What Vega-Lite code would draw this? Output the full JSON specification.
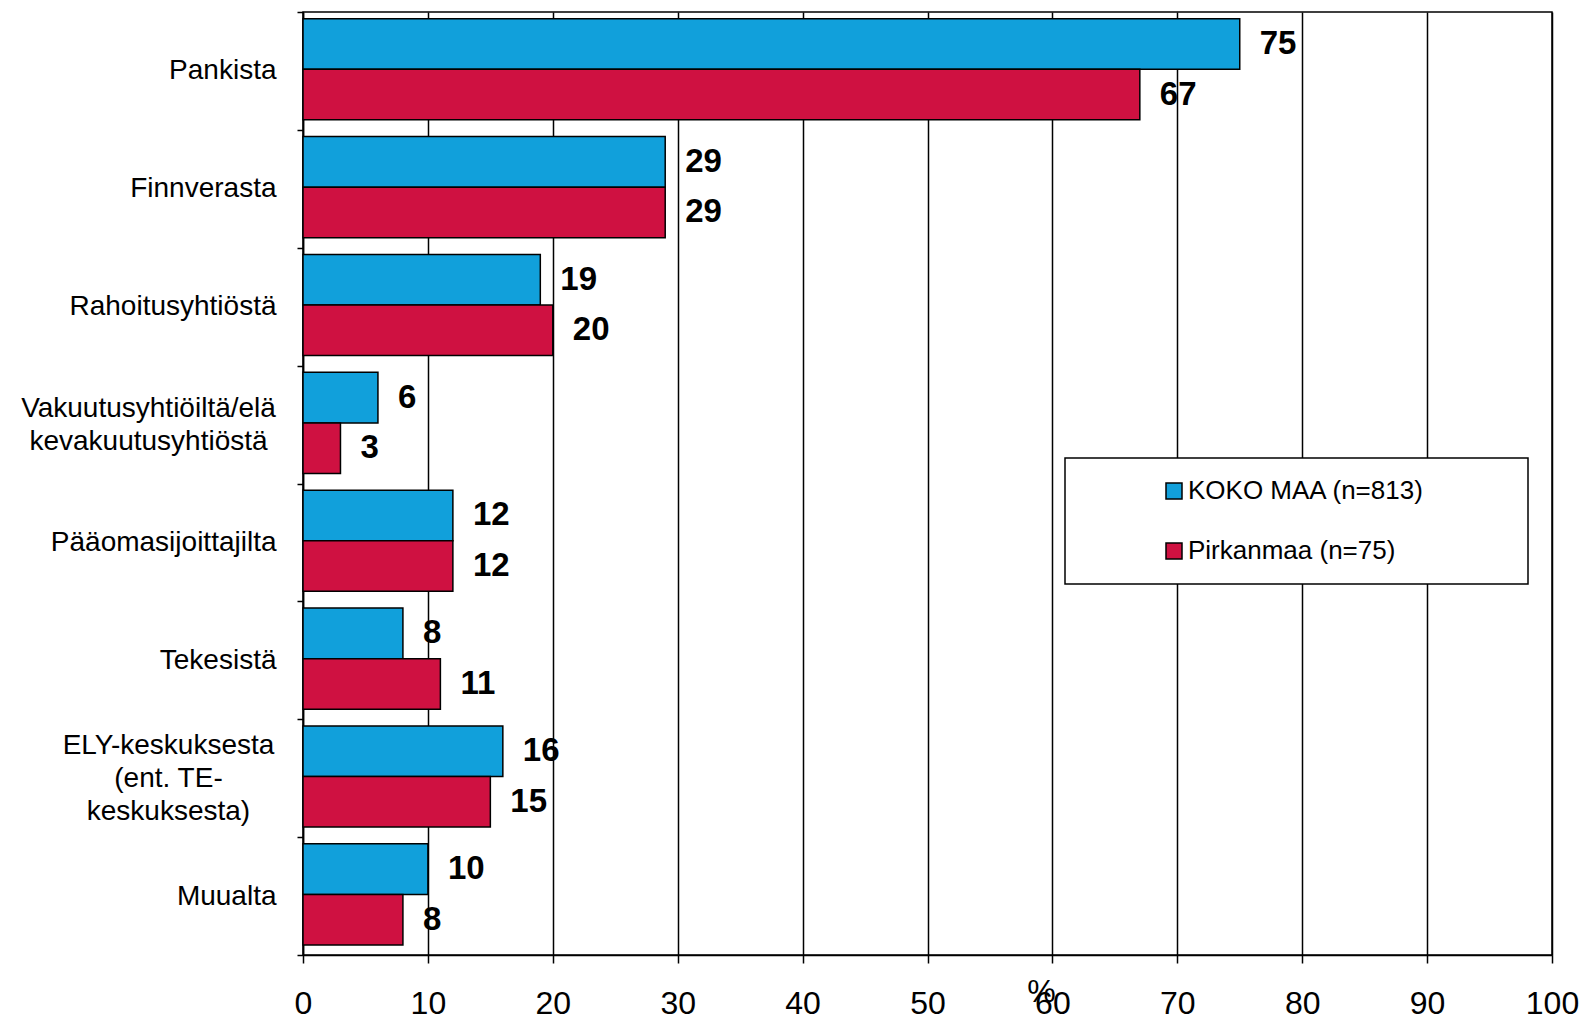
{
  "$schema": "https://vega.github.io/schema/vega-lite/v6.json",
  "width": 1249,
  "height": 943,
  "autosize": {"type": "none"},
  "padding": {"left": 303, "top": 12, "right": 35, "bottom": 67},
  "background": "white",
  "config": {
    "view": {"stroke": "black", "strokeWidth": 1.5},
    "font": "Liberation Sans",
    "legend": {"strokeColor": "black", "strokeWidth": 1.5, "fillColor": "white", "padding": 20}
  },
  "data": {
    "values": [
      {"lahde": "Pankista", "sarja": "KOKO MAA  (n=813)", "arvo": 75},
      {"lahde": "Pankista", "sarja": "Pirkanmaa (n=75)", "arvo": 67},
      {"lahde": "Finnverasta", "sarja": "KOKO MAA  (n=813)", "arvo": 29},
      {"lahde": "Finnverasta", "sarja": "Pirkanmaa (n=75)", "arvo": 29},
      {"lahde": "Rahoitusyhtiöstä", "sarja": "KOKO MAA  (n=813)", "arvo": 19},
      {"lahde": "Rahoitusyhtiöstä", "sarja": "Pirkanmaa (n=75)", "arvo": 20},
      {"lahde": "Vakuutusyhtiöiltä/eläkevakuutusyhtiöstä", "sarja": "KOKO MAA  (n=813)", "arvo": 6},
      {"lahde": "Vakuutusyhtiöiltä/eläkevakuutusyhtiöstä", "sarja": "Pirkanmaa (n=75)", "arvo": 3},
      {"lahde": "Pääomasijoittajilta", "sarja": "KOKO MAA  (n=813)", "arvo": 12},
      {"lahde": "Pääomasijoittajilta", "sarja": "Pirkanmaa (n=75)", "arvo": 12},
      {"lahde": "Tekesistä", "sarja": "KOKO MAA  (n=813)", "arvo": 8},
      {"lahde": "Tekesistä", "sarja": "Pirkanmaa (n=75)", "arvo": 11},
      {"lahde": "ELY-keskuksesta (ent. TE-keskuksesta)", "sarja": "KOKO MAA  (n=813)", "arvo": 16},
      {"lahde": "ELY-keskuksesta (ent. TE-keskuksesta)", "sarja": "Pirkanmaa (n=75)", "arvo": 15},
      {"lahde": "Muualta", "sarja": "KOKO MAA  (n=813)", "arvo": 10},
      {"lahde": "Muualta", "sarja": "Pirkanmaa (n=75)", "arvo": 8}
    ]
  },
  "encoding": {
    "y": {
      "field": "lahde",
      "type": "nominal",
      "sort": null,
      "scale": {"paddingInner": 0, "paddingOuter": 0},
      "axis": {
        "title": null,
        "tickBand": "extent",
        "tickSize": 6,
        "tickColor": "black",
        "tickWidth": 1.5,
        "domainColor": "black",
        "domainWidth": 1.5,
        "labelFontSize": 28,
        "labelColor": "black",
        "labelLimit": 500,
        "labelBaseline": "middle",
        "labelLineHeight": 33,
        "labelAlign": {
          "condition": {"test": "datum.value === 'Vakuutusyhtiöiltä/eläkevakuutusyhtiöstä' || datum.value === 'ELY-keskuksesta (ent. TE-keskuksesta)'", "value": "center"},
          "value": "right"
        },
        "labelPadding": {
          "condition": [
            {"test": "datum.value === 'Vakuutusyhtiöiltä/eläkevakuutusyhtiöstä'", "value": 149},
            {"test": "datum.value === 'ELY-keskuksesta (ent. TE-keskuksesta)'", "value": 129}
          ],
          "value": 21
        },
        "labelOffset": {
          "condition": [
            {"test": "datum.value === 'Vakuutusyhtiöiltä/eläkevakuutusyhtiöstä'", "value": -16},
            {"test": "datum.value === 'ELY-keskuksesta (ent. TE-keskuksesta)'", "value": -33}
          ],
          "value": 0
        },
        "labelExpr": "datum.label === 'Vakuutusyhtiöiltä/eläkevakuutusyhtiöstä' ? ['Vakuutusyhtiöiltä/elä', 'kevakuutusyhtiöstä'] : datum.label === 'ELY-keskuksesta (ent. TE-keskuksesta)' ? ['ELY-keskuksesta', '(ent. TE-', 'keskuksesta)'] : datum.label"
      }
    },
    "yOffset": {
      "field": "sarja",
      "type": "nominal",
      "sort": ["KOKO MAA  (n=813)", "Pirkanmaa (n=75)"],
      "scale": {"paddingInner": 0, "paddingOuter": 0.167, "align": 0.4}
    },
    "x": {
      "field": "arvo",
      "type": "quantitative",
      "scale": {"domain": [0, 100], "nice": false},
      "axis": {
        "values": [0, 10, 20, 30, 40, 50, 60, 70, 80, 90, 100],
        "grid": true,
        "gridColor": "black",
        "gridWidth": 1.5,
        "gridOpacity": 1,
        "tickSize": 8,
        "tickColor": "black",
        "tickWidth": 1.5,
        "domainColor": "black",
        "domainWidth": 1.5,
        "labelFontSize": 32,
        "labelColor": "black",
        "labelFlush": false,
        "labelPadding": 25,
        "title": "%",
        "titleFontSize": 32,
        "titleFontWeight": "normal",
        "titleColor": "black",
        "titleX": 738,
        "titleY": 21,
        "titleAlign": "center",
        "titleBaseline": "top"
      }
    }
  },
  "layer": [
    {
      "mark": {"type": "bar", "stroke": "black", "strokeWidth": 1.5},
      "encoding": {
        "color": {
          "field": "sarja",
          "type": "nominal",
          "sort": ["KOKO MAA  (n=813)", "Pirkanmaa (n=75)"],
          "scale": {"domain": ["KOKO MAA  (n=813)", "Pirkanmaa (n=75)"], "range": ["#11A0DB", "#CF1141"]},
          "legend": {
            "title": null,
            "orient": "none",
            "legendX": 762,
            "legendY": 446,
            "symbolType": "square",
            "symbolSize": 256,
            "symbolStrokeColor": "black",
            "symbolStrokeWidth": 1.5,
            "symbolOpacity": 1,
            "symbolOffset": 76,
            "labelOffset": 1,
            "labelFontSize": 26,
            "labelColor": "black",
            "labelLimit": 800,
            "rowPadding": 34,
            "labelExpr": "datum.label + '\u2800\u2800\u2800\u2800'"
          }
        }
      }
    },
    {
      "mark": {"type": "text", "align": "left", "baseline": "middle", "dx": 20, "fontSize": 33, "fontWeight": "bold", "color": "black"},
      "encoding": {"text": {"field": "arvo", "type": "quantitative"}}
    }
  ]
}
